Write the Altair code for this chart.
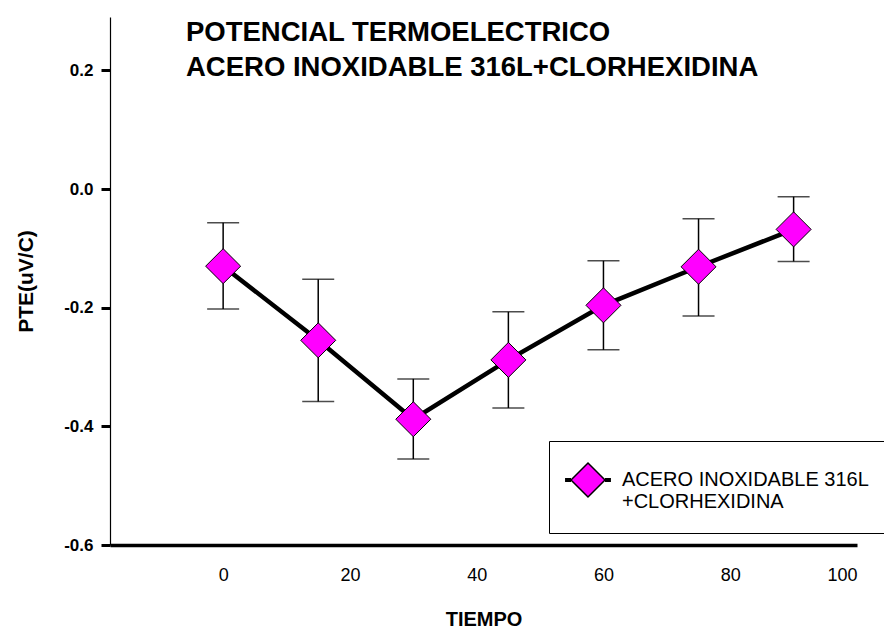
import altair as alt
import pandas as pd

# Data
tiempo = [0, 15, 30, 45, 60, 75, 90]
pte = [-0.130, -0.255, -0.388, -0.288, -0.196, -0.131, -0.068]
pte_upper = [-0.057, -0.152, -0.320, -0.207, -0.121, -0.050, -0.013]
pte_lower = [-0.202, -0.358, -0.455, -0.369, -0.271, -0.214, -0.122]
serie_name = "ACERO INOXIDABLE 316L\n+CLORHEXIDINA"
x_ticks = [0, 20, 40, 60, 80, 100]
y_ticks = [-0.6, -0.4, -0.2, 0.0, 0.2]
title_lines = ["POTENCIAL TERMOELECTRICO", "ACERO INOXIDABLE 316L+CLORHEXIDINA"]

df = pd.DataFrame({
    "tiempo": tiempo,
    "pte": pte,
    "upper": pte_upper,
    "lower": pte_lower,
    "serie": [serie_name] * len(tiempo),
})

FONT = "Liberation Sans"
MAGENTA = "#FF00FF"

x_enc = alt.X(
    "tiempo:Q",
    scale=alt.Scale(domain=[-17.85, 100], nice=False, zero=False),
    axis=alt.Axis(
        values=x_ticks, title="TIEMPO", grid=False, ticks=False,
        domainColor="black", domainWidth=3.5,
        labelFont=FONT, labelFontSize=18, labelColor="black", labelPadding=21,
        titleFont=FONT, titleFontSize=20, titleFontWeight="bold", titleColor="black",
        titleY=74, titleBaseline="middle",
    ),
)
y_scale = alt.Scale(domain=[-0.6, 0.29], nice=False, zero=False)
y_axis = alt.Axis(
    values=y_ticks, title="PTE(uV/C)", grid=False,
    labelExpr="replace(format(datum.value, '.1f'), '\u2212', '-')",
    domainColor="black", domainWidth=1.2,
    tickColor="black", tickSize=9, tickWidth=3,
    labelFont=FONT, labelFontSize=17, labelFontWeight="bold", labelColor="black", labelPadding=8,
    titleFont=FONT, titleFontSize=21, titleFontWeight="bold", titleColor="black",
    titleAngle=270, titleX=-84, titleY=264, titleAlign="center", titleBaseline="middle",
)

line = alt.Chart(df).mark_line(color="black", strokeWidth=4.5).encode(
    x=x_enc,
    y=alt.Y("pte:Q", scale=y_scale, axis=y_axis),
)

errbars = alt.Chart(df).mark_errorbar(
    color="black",
    rule={"strokeWidth": 1.5},
    ticks={"size": 32, "thickness": 1.5, "color": "black"},
).encode(
    x="tiempo:Q",
    y=alt.Y("lower:Q", scale=y_scale, title="PTE(uV/C)"),
    y2="upper:Q",
)

legend_path = (
    "M-1.35,-0.07H-1M-1.35,0H-1M-1.35,0.07H-1"
    "M1,-0.07H1.35M1,0H1.35M1,0.07H1.35"
    "M-1,0L0,-1L1,0L0,1Z"
)

points = alt.Chart(df).mark_point(
    shape="diamond", filled=True, size=1225, stroke="black", strokeWidth=1, opacity=1
).encode(
    x="tiempo:Q",
    y=alt.Y("pte:Q", scale=y_scale),
    color=alt.Color(
        "serie:N",
        scale=alt.Scale(range=[MAGENTA]),
        legend=alt.Legend(
            title=None, orient="none", legendX=439, legendY=424,
            symbolType=legend_path, symbolSize=1156,
            symbolFillColor=MAGENTA, symbolStrokeColor="black", symbolStrokeWidth=1.5,
            symbolOpacity=1,
            labelExpr="split(datum.label, '\\n')",
            labelFont=FONT, labelFontSize=20, labelColor="black", labelOffset=16,
            labelLimit=400, labelBaseline="middle",
            strokeColor="black", fillColor="white", padding=21,
        ),
    ),
)

chart = alt.layer(line, errbars, points).properties(
    width=747,
    height=528,
    background="white",
    view=alt.ViewBackground(stroke="transparent", strokeWidth=0),
    autosize=alt.AutoSizeParams(type="none"),
    padding={"left": 102, "top": 9, "right": 27, "bottom": 83},
    title=alt.TitleParams(
        text=title_lines, anchor="start", orient="top", frame="group",
        font=FONT, fontSize=27.5, fontWeight="bold", color="black",
        baseline="top", offset=0, dx=76, dy=64, lineHeight=35,
    ),
).configure_view(stroke="transparent", strokeWidth=0)

chart.save("out.html", embed_options={"renderer": "svg", "actions": False})
